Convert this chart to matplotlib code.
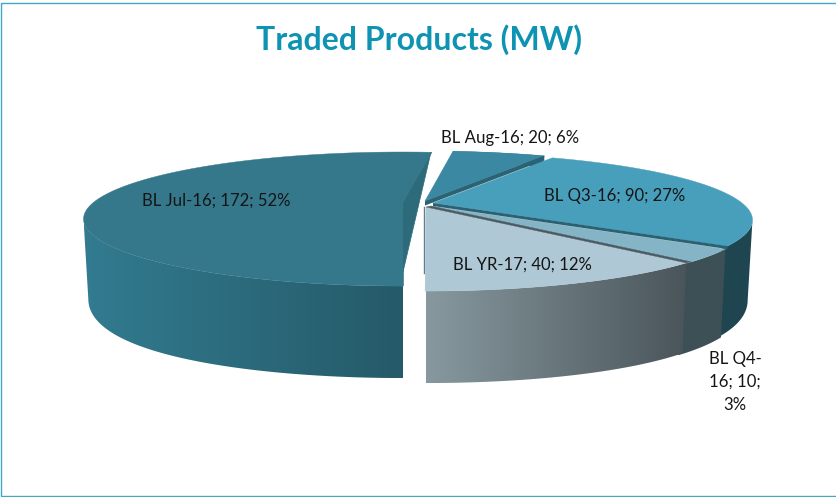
import numpy as np
import matplotlib
matplotlib.use("Agg")
import matplotlib.pyplot as plt
from matplotlib.colors import LinearSegmentedColormap
from matplotlib.patches import Polygon, Rectangle

plt.rcParams["font.family"] = ["Lato", "DejaVu Sans"]

# chart data, slices run clockwise starting from the front of the pie
products = ["BL Jul-16", "BL Aug-16", "BL Q3-16", "BL Q4-16", "BL YR-17"]
traded_mw = [172, 20, 90, 10, 40]

# slice styling
top_colors = ["#35788c", "#3a88a2", "#489fbb", "#84b4c6", "#aec8d5"]
wall_left = ["#327b90", "#2b6375", "#1f4650", "#3d5056", "#87999f"]
wall_right = ["#255a68", "#2b6375", "#1f4650", "#3d5056", "#4a555a"]
seam_colors = ["#2d6a7a", "#2b6375", "#2a6273", "#4a5a62", "#4a5a62"]
seam_height = [0, 4.5, 3, 0, 0]
offsets = [(-22, -5), (0, -6), (8, -4), (6, -1), (1, 0)]
wall_extra = [0, 0, 2.5, 2.5, 0]
label_pos = [(216, 201), (510, 138), (615, 196), (735, 382), (522, 265)]

cx, cy = 425, 207
rx, ry = 309, 62.7
persp = 0.254
start = 180.0
inset = 0.985


def project(beta, dx=0, dy=0):
    b = np.radians(beta)
    depth = np.cos(b)
    s = 1 / (1 + persp * depth)
    return cx + dx + rx * np.sin(b) * s, cy + dy - ry * depth * s


def wall_h(beta):
    depth = np.cos(np.radians(beta))
    return 70 - 44.5 * depth - 22.5 * depth**2


fig = plt.figure(figsize=(8.37, 4.97), dpi=100)
ax = fig.add_axes([0, 0, 1, 1])
ax.axis("off")

ax.add_patch(Rectangle((1, 2.5), 845, 493, fill=False, ec="#3fa9c0", lw=1.0))

total = sum(traded_mw)
sweeps = [v / total * 360 for v in traded_mw]
edges = start + np.cumsum([0] + sweeps)

# outer walls, gradient images clipped to the wall shape
for i in range(len(traded_mw)):
    dx, dy = offsets[i]
    betas = np.linspace(edges[i], edges[i + 1] + wall_extra[i], 400)
    xs, ys = project(betas, dx, dy)
    # only the part turned to the viewer, up to the silhouette of the pie
    if np.sin(np.radians(betas)).min() < -0.9:
        betas = betas[: np.argmin(xs) + 1]
    elif np.sin(np.radians(betas)).max() > 0.9:
        betas = betas[np.argmax(xs):]
    xs, ys = project(betas, dx, dy)
    xb = cx + dx + (xs - cx - dx) * inset
    yb = ys + wall_h(betas)
    outline = list(zip(xs, ys)) + list(zip(xb[::-1], yb[::-1]))
    x0, x1 = min(xs.min(), xb.min()), max(xs.max(), xb.max())
    y0, y1 = min(ys.min(), yb.min()), max(ys.max(), yb.max())
    cmap = LinearSegmentedColormap.from_list("wall", [wall_left[i], wall_right[i]])
    im = ax.imshow(np.linspace(0, 1, 256).reshape(1, -1), cmap=cmap, extent=(x0, x1, y1, y0),
                   aspect="auto", interpolation="bilinear", zorder=2 + i * 0.01)
    shape = Polygon(outline, transform=ax.transData, fc="none", ec="none")
    ax.add_patch(shape)
    im.set_clip_path(shape)

# exposed cut face of the big pulled out slice
dx, dy = offsets[0]
ax.add_patch(Polygon([project(edges[1], dx, dy), (cx + dx, cy + dy),
                      project(edges[0], dx, dy), (cx + dx, cy + dy + wall_h(90))],
                     fc=seam_colors[0], ec=seam_colors[0], lw=0.5, zorder=3))

# the sliver on the left of the YR-17 slice
ax.plot([cx - 1, cx - 1], [cy, cy + wall_h(90) - 4], color="#5f7f8c", lw=1.0, zorder=3)

# top faces
for i in range(len(traded_mw)):
    dx, dy = offsets[i]
    betas = np.arange(edges[i], edges[i + 1] + 0.25, 0.25)
    xs, ys = project(betas, dx, dy)
    pts = [(cx + dx, cy + dy)] + list(zip(xs, ys))
    ax.add_patch(Polygon(pts, fc=top_colors[i], ec=top_colors[i], lw=0.3, zorder=5))

# thin seams below the clockwise edge of each slice
for i in range(len(traded_mw)):
    if seam_height[i] == 0:
        continue
    dx, dy = offsets[i]
    ex, ey = project(edges[i + 1], dx, dy)
    ax.add_patch(Polygon([(cx + dx, cy + dy), (ex, ey), (ex, ey + seam_height[i]),
                          (cx + dx, cy + dy + seam_height[i])],
                         fc=seam_colors[i], ec="none", zorder=6))

# dark line closing the gap between the Q4 and YR faces
qx, qy = offsets[3]
yx, yy = offsets[4]
ax.add_patch(Polygon([(cx + qx, cy + qy), project(edges[4], qx, qy),
                      project(edges[4], yx, yy), (cx + yx, cy + yy)],
                     fc=seam_colors[3], ec=seam_colors[3], lw=0.3, zorder=6))

ax.set_xlim(0, 837)
ax.set_ylim(497, 0)

ax.text(419, 40, "Traded Products (MW)", ha="center", va="center", fontsize=23,
        fontweight="bold", color="#0f93b2", zorder=10)

for name, mw, (lx, ly) in zip(products, traded_mw, label_pos):
    pct = round(mw / total * 100)
    if name == "BL Q4-16":
        txt = f"BL Q4-\n16; {mw};\n{pct}%"
    else:
        txt = f"{name}; {mw}; {pct}%"
    ax.text(lx, ly, txt, ha="center", va="center", fontsize=12.1, color="#151515",
            linespacing=1.55, zorder=10)

fig.savefig("out.png", dpi=100)
